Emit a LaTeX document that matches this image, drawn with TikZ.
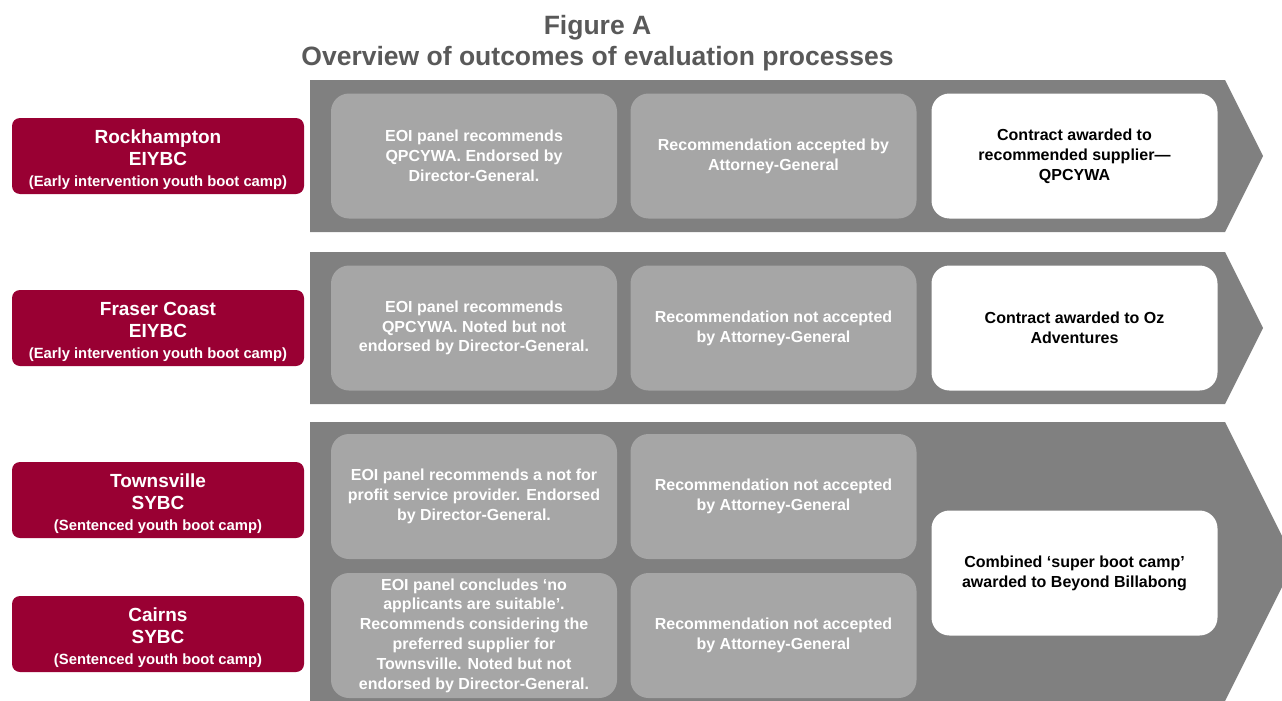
\documentclass[tikz,border=0pt]{standalone}
\usepackage{fontspec}
\setmainfont{Liberation Sans}
\definecolor{campred}{RGB}{153,0,51}
\definecolor{bandgrey}{RGB}{128,128,128}
\definecolor{panelgrey}{RGB}{166,166,166}
\definecolor{titlegrey}{RGB}{89,89,89}
\begin{document}
\begin{tikzpicture}[x=1pt,y=-1pt,
   band/.style={fill=bandgrey, draw=none},
   place/.style={fill=campred, rounded corners=8pt,
      minimum width=292pt, minimum height=76pt, inner sep=0pt},
   placetext/.style={text=white, align=center, inner sep=0pt,
      font=\fontsize{19}{22}\selectfont\bfseries},
   panel/.style={fill=panelgrey, rounded corners=18pt, text=white, align=center,
      minimum width=286pt, minimum height=125pt, inner sep=0pt,
      font=\fontsize{16}{19.8}\selectfont\bfseries},
   outcome/.style={panel, fill=white, text=black}]
   %% page frame, the last band runs off the right edge
   \useasboundingbox (0,0) rectangle (1282,701);
   \clip (0,0) rectangle (1282,701);

   \node[text=titlegrey, align=center, font=\fontsize{26.5}{31}\selectfont\bfseries]
      (title) at (597.5,43.5) {Figure A\\Overview of outcomes of evaluation processes};

   %% grey chevron bands: top / bottom / tip
   \foreach \t/\b/\n in {80/232/1, 252/404/2, 422/701/3}
   {
      \pgfmathsetmacro{\m}{(\t+\b)/2}
      \pgfmathsetmacro{\tip}{1225+(\b-\t)/4}
      \coordinate (Tip\n) at (\tip,\m);
      \fill[band] (310,\t) -- (1225,\t) -- (Tip\n) -- (1225,\b) -- (310,\b) -- cycle;
   }

   %% locations
   \foreach \v/\y/\a/\c/\s in
   { rock/156/Rockhampton/EIYBC/Early intervention youth boot camp,
     fraser/328/Fraser Coast/EIYBC/Early intervention youth boot camp,
     towns/500/Townsville/SYBC/Sentenced youth boot camp,
     cairns/634/Cairns/SYBC/Sentenced youth boot camp}
   {
      \node[place] (\v) at (158,\y) {};
      \node[placetext] (\v Name) at ([yshift=-3.5pt]\v.center)
         {\a\\\c\\[-1pt]{\fontsize{14.8}{17}\selectfont(\s)}};
   };

   %% evaluation panels
   \node[panel] (rockEoi) at (474,156)
      {EOI panel recommends\\QPCYWA. Endorsed by\\Director-General.};
   \node[panel] (rockAg) at (773.5,156)
      {Recommendation accepted by\\Attorney-General};
   \node[outcome] (rockOut) at (1074.5,156)
      {Contract awarded to\\recommended supplier---\\QPCYWA};

   \node[panel] (fraserEoi) at (474,328)
      {EOI panel recommends\\QPCYWA. Noted but not\\endorsed by Director-General.};
   \node[panel] (fraserAg) at (773.5,328)
      {Recommendation not accepted\\by Attorney-General};
   \node[outcome] (fraserOut) at (1074.5,328)
      {Contract awarded to Oz\\Adventures};

   \node[panel] (townsEoi) at (474,496.5)
      {EOI panel recommends a not for\\profit service provider. Endorsed\\by Director-General.};
   \node[panel] (townsAg) at (773.5,496.5)
      {Recommendation not accepted\\by Attorney-General};

   \node[panel] (cairnsEoi) at (474,635.5)
      {EOI panel concludes `no\\applicants are suitable'.\\Recommends considering the\\preferred supplier for\\Townsville. Noted but not\\endorsed by Director-General.};
   \node[panel] (cairnsAg) at (773.5,635.5)
      {Recommendation not accepted\\by Attorney-General};

   \node[outcome] (superOut) at (1074.5,573)
      {Combined `super boot camp'\\awarded to Beyond Billabong};
\end{tikzpicture}
\end{document}
